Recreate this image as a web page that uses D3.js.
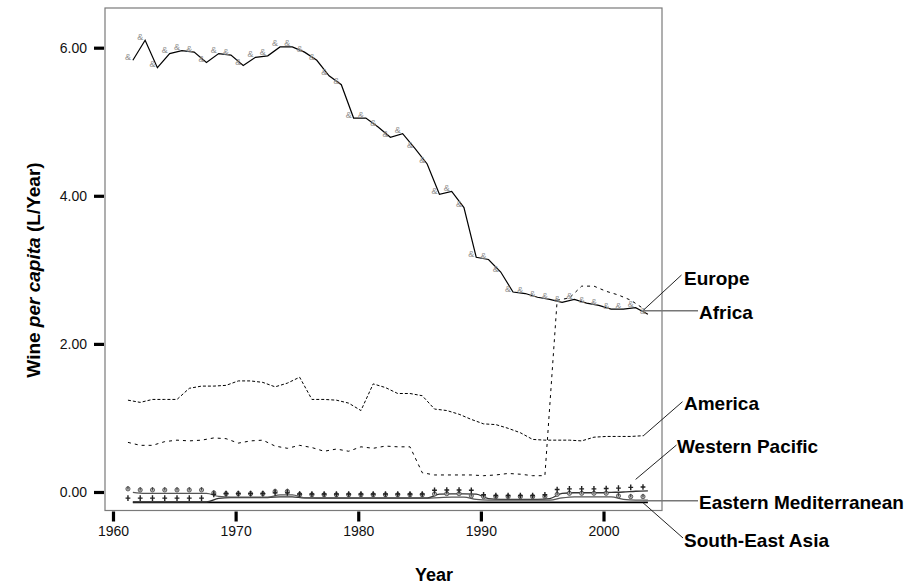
<!DOCTYPE html>
<html>
<head>
<meta charset="utf-8">
<script src="https://cdn.jsdelivr.net/npm/d3@7"></script>
<style>
  body { margin: 0; background: #fff; }
  svg { display: block; font-family: "Liberation Sans", Arial, sans-serif; }
</style>
</head>
<body>
<script>
// years of observation
const years = [1961, 1962, 1963, 1964, 1965, 1966, 1967, 1968, 1969, 1970,
    1971, 1972, 1973, 1974, 1975, 1976, 1977, 1978, 1979, 1980,
    1981, 1982, 1983, 1984, 1985, 1986, 1987, 1988, 1989, 1990,
    1991, 1992, 1993, 1994, 1995, 1996, 1997, 1998, 1999, 2000,
    2001, 2002, 2003];

// wine per capita (L/year)
const europe = [5.83, 6.10, 5.73, 5.92, 5.96, 5.94, 5.80, 5.92, 5.90, 5.76,
    5.87, 5.89, 6.01, 6.01, 5.94, 5.83, 5.62, 5.50, 5.05, 5.05,
    4.93, 4.79, 4.84, 4.64, 4.43, 4.02, 4.06, 3.84, 3.17, 3.14,
    2.97, 2.70, 2.68, 2.63, 2.60, 2.56, 2.60, 2.55, 2.52, 2.47,
    2.47, 2.49, 2.40];

const africa = [0.67, 0.63, 0.63, 0.68, 0.70, 0.69, 0.70, 0.73, 0.72, 0.66,
    0.69, 0.70, 0.62, 0.59, 0.63, 0.60, 0.55, 0.58, 0.55, 0.61,
    0.59, 0.62, 0.61, 0.61, 0.26, 0.23, 0.23, 0.23, 0.23, 0.22,
    0.23, 0.25, 0.24, 0.22, 0.22, 2.59, 2.62, 2.78, 2.78, 2.71,
    2.66, 2.59, 2.48];

const america = [1.24, 1.21, 1.25, 1.25, 1.25, 1.40, 1.43, 1.43, 1.44, 1.50,
    1.50, 1.48, 1.42, 1.47, 1.55, 1.25, 1.25, 1.24, 1.20, 1.10,
    1.46, 1.41, 1.33, 1.33, 1.30, 1.12, 1.10, 1.05, 0.98, 0.92,
    0.91, 0.86, 0.80, 0.71, 0.70, 0.70, 0.70, 0.69, 0.74, 0.75,
    0.75, 0.75, 0.76];

const westernPacific = [-0.135, -0.135, -0.135, -0.135, -0.135, -0.135, -0.135, -0.085, -0.075, -0.075,
    -0.075, -0.075, -0.065, -0.065, -0.08, -0.08, -0.08, -0.08, -0.08, -0.08,
    -0.08, -0.08, -0.08, -0.08, -0.08, -0.03, -0.025, -0.025, -0.03, -0.09,
    -0.10, -0.10, -0.10, -0.10, -0.09, -0.02, -0.01, -0.01, -0.01, -0.005,
    0.0, 0.01, 0.015];

const easternMed = [-0.005, -0.02, -0.02, -0.02, -0.02, -0.02, -0.02, -0.06, -0.07, -0.07,
    -0.07, -0.07, -0.04, -0.04, -0.08, -0.085, -0.085, -0.085, -0.085, -0.085,
    -0.085, -0.085, -0.085, -0.085, -0.085, -0.075, -0.07, -0.07, -0.10, -0.11,
    -0.11, -0.11, -0.11, -0.11, -0.11, -0.08, -0.065, -0.065, -0.065, -0.065,
    -0.10, -0.11, -0.11];

const southEastAsia = [-0.14, -0.14, -0.14, -0.14, -0.14, -0.14, -0.14, -0.14, -0.14, -0.14,
    -0.14, -0.14, -0.14, -0.14, -0.14, -0.14, -0.14, -0.14, -0.14, -0.14,
    -0.14, -0.14, -0.14, -0.14, -0.14, -0.14, -0.14, -0.14, -0.14, -0.14,
    -0.14, -0.14, -0.14, -0.14, -0.14, -0.14, -0.14, -0.14, -0.14, -0.14,
    -0.14, -0.14, -0.14];

const xTicks = [1960, 1970, 1980, 1990, 2000];
const yTicks = [0, 2, 4, 6];

// labels: text, label anchor (px), and the year/value the leader points at
const labels = [
    { name: "Europe", lx: 684, ly: 285, ax: 681.5, ay: 275, year: 2003, value: 2.45 },
    { name: "Africa", lx: 699, ly: 319, ax: 698, ay: 310.7, year: 2003, value: 2.45, grey: true },
    { name: "America", lx: 684, ly: 410, ax: 682.5, ay: 401.7, year: 2003, value: 0.755 },
    { name: "Western Pacific", lx: 677, ly: 452.5, ax: 676.5, ay: 445, year: 2002.4, value: 0.17 },
    { name: "Eastern Mediterranean", lx: 699, ly: 509, ax: 698, ay: 500.7, year: 2003, value: -0.117, grey: true },
    { name: "South-East Asia", lx: 684, ly: 547, ax: 683, ay: 538, year: 2003, value: -0.145 }
];

const W = 918, H = 585;
const frame = { left: 105, right: 662, top: 8, bottom: 510.5 };

const svg = d3.select("body").append("svg")
    .attr("width", W)
    .attr("height", H);

const x = d3.scaleLinear()
    .domain([1959.348, 2004.77])
    .range([frame.left, frame.right]);

const y = d3.scaleLinear()
    .domain([-0.25, 6.536])
    .range([frame.bottom, frame.top]);

// solid curves sit a little right of the dashed ones and the markers
const solidShift = 0.62, dashShift = 0.22;

const toPts = (vals, shift) => years.map((yr, i) => ({ x: x(yr + shift), y: y(vals[i]) }));

// frame
svg.append("rect")
    .attr("x", frame.left)
    .attr("y", frame.top)
    .attr("width", frame.right - frame.left)
    .attr("height", frame.bottom - frame.top)
    .attr("fill", "none")
    .attr("stroke", "#7a7a7a")
    .attr("stroke-width", 1.2);

// axes
const xAxis = svg.append("g")
    .attr("transform", `translate(0,${frame.bottom + 1})`)
    .call(d3.axisBottom(x).tickValues(xTicks).tickFormat(d3.format("d")).tickSize(10).tickPadding(5));

const yAxis = svg.append("g")
    .attr("transform", `translate(${frame.left - 1},0)`)
    .call(d3.axisLeft(y).tickValues(yTicks).tickFormat(d3.format(".2f")).tickSize(10).tickPadding(7));

[xAxis, yAxis].forEach(g => {
    g.select(".domain").remove();
    g.selectAll(".tick line").attr("stroke", "#000").attr("stroke-width", 3.2);
    g.selectAll(".tick text")
        .attr("fill", "#111")
        .style("font-size", "14px")
        .style("font-family", "'Liberation Sans', Arial, sans-serif");
});

// lines
const line = d3.line().x(d => d.x).y(d => d.y);
const smooth = d3.line().x(d => d.x).y(d => d.y).curve(d3.curveMonotoneX);

const plot = svg.append("g");

plot.append("path")
    .attr("d", line(toPts(america, dashShift)))
    .attr("fill", "none")
    .attr("stroke", "#000")
    .attr("stroke-width", 1)
    .attr("stroke-dasharray", "3,2");

plot.append("path")
    .attr("d", line(toPts(africa, dashShift)))
    .attr("fill", "none")
    .attr("stroke", "#000")
    .attr("stroke-width", 1)
    .attr("stroke-dasharray", "3,4");

plot.append("path")
    .attr("d", smooth(toPts(southEastAsia, solidShift)))
    .attr("fill", "none")
    .attr("stroke", "#000")
    .attr("stroke-width", 1.6);

plot.append("path")
    .attr("d", smooth(toPts(westernPacific, solidShift)))
    .attr("fill", "none")
    .attr("stroke", "#333")
    .attr("stroke-width", 1.3);

plot.append("path")
    .attr("d", smooth(toPts(easternMed, solidShift)))
    .attr("fill", "none")
    .attr("stroke", "#555")
    .attr("stroke-width", 1.3);

plot.append("path")
    .attr("d", line(toPts(europe, solidShift)))
    .attr("fill", "none")
    .attr("stroke", "#000")
    .attr("stroke-width", 1.2);

// markers (drawn up-left of the data point, like the original glyphs)
const mk = (vals) => toPts(vals, dashShift).map(p => ({ x: p.x, y: p.y - 3.5 }));

plot.selectAll(".m-eu")
    .data(mk(europe))
    .join("text")
    .attr("class", "m-eu")
    .attr("x", d => d.x)
    .attr("y", d => d.y)
    .attr("text-anchor", "middle")
    .attr("dominant-baseline", "central")
    .attr("fill", "#8f8f8f")
    .style("font-size", "9px")
    .text("&");

const em = plot.selectAll(".m-em")
    .data(mk(easternMed))
    .join("g")
    .attr("class", "m-em")
    .attr("transform", d => `translate(${d.x},${d.y})`);
em.append("circle").attr("r", 2.1).attr("fill", "#b5b5b5").attr("stroke", "#444").attr("stroke-width", 0.8);
em.append("line").attr("y1", -2.8).attr("y2", 0.5).attr("stroke", "#333").attr("stroke-width", 0.9);

plot.selectAll(".m-wp")
    .data(mk(westernPacific))
    .join("path")
    .attr("class", "m-wp")
    .attr("transform", d => `translate(${d.x},${d.y})`)
    .attr("d", "M0,-3.2V2.4M-2.4,-0.4H2.4")
    .attr("stroke", "#222")
    .attr("stroke-width", 1.4);

// leader lines and labels
svg.selectAll(".leader")
    .data(labels)
    .join("line")
    .attr("class", "leader")
    .attr("x1", d => d.ax)
    .attr("y1", d => d.ay)
    .attr("x2", d => x(d.year + dashShift))
    .attr("y2", d => d.grey ? d.ay : y(d.value))
    .attr("stroke", d => d.grey ? "#777" : "#222")
    .attr("stroke-width", d => d.grey ? 1.4 : 1);

svg.selectAll(".lab")
    .data(labels)
    .join("text")
    .attr("class", "lab")
    .attr("x", d => d.lx)
    .attr("y", d => d.ly)
    .attr("fill", "#000")
    .style("font-size", "19px")
    .style("font-weight", "bold")
    .text(d => d.name);

// axis titles
svg.append("text")
    .attr("x", 434)
    .attr("y", 581)
    .attr("text-anchor", "middle")
    .style("font-size", "18px")
    .style("font-weight", "bold")
    .text("Year");

const yt = svg.append("text")
    .attr("transform", "translate(40,270) rotate(-90)")
    .attr("text-anchor", "middle")
    .style("font-size", "19px")
    .style("font-weight", "bold");
yt.append("tspan").text("Wine ");
yt.append("tspan").style("font-style", "italic").text("per capita");
yt.append("tspan").text(" (L/Year)");
</script>
</body>
</html>
